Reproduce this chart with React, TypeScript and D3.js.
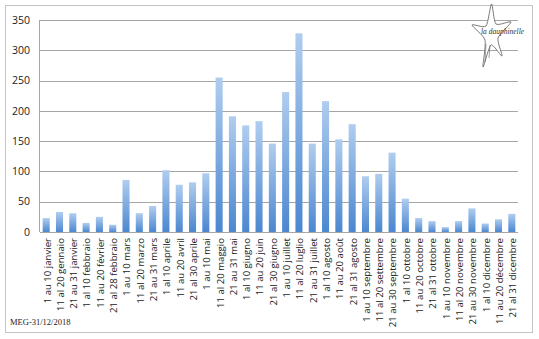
import React from "react";
import * as d3 from "d3";

const categories = [
  "1 au 10 janvier", "11 al 20 gennaio", "21 au 31 janvier",
  "1 al 10 febbraio", "11 au 20 février", "21 al 28 febbraio",
  "1 au 10 mars", "11 al 20 marzo", "21 au 31 mars",
  "1 al 10 aprile", "11 au 20 avril", "21 al 30 aprile",
  "1 au 10 mai", "11 al 20 maggio", "21 au 31 mai",
  "1 al 10 giugno", "11 au 20 juin", "21 al 30 giugno",
  "1 au 10 juillet", "11 al 20 luglio", "21 au 31 juillet",
  "1 al 10 agosto", "11 au 20 août", "21 al 31 agosto",
  "1 au 10 septembre", "11 al 20 settembre", "21 au 30 septembre",
  "1 al 10 ottobre", "11 au 20 octobre", "21 al 31 ottobre",
  "1 au 10 novembre", "11 al 20 novembre", "21 au 30 novembre",
  "1 al 10 dicembre", "11 au 20 décembre", "21 al 31 dicembre",
];

const values = [
  23, 33, 31, 15, 25, 12,
  86, 31, 43, 102, 78, 82,
  97, 255, 191, 176, 183, 146,
  231, 328, 146, 216, 153, 178,
  92, 96, 131, 55, 23, 18,
  8, 18, 39, 14, 21, 30,
];

const yTicks = [0, 50, 100, 150, 200, 250, 300, 350];

const footnote = "MEG-31/12/2018";
const logoText = "la dauphinelle";

export default function App() {
  const W = 539, H = 339;
  const left = 40, right = 518, top = 20, bottom = 232;

  const x = d3.scaleBand<string>().domain(categories).range([left, right]).paddingInner(0.47).paddingOuter(0.2);
  const y = d3.scaleLinear().domain([0, 350]).range([bottom, top]);

  // logo flower outline
  const tips: [number, number][] = [
    [491.5, 4], [511, 22], [502, 56], [483, 67], [472, 25],
  ];
  const inner: [number, number][] = [
    [496, 24], [498, 38], [491, 45], [485, 40], [486, 26],
  ];
  const pts: [number, number][] = [];
  for (let i = 0; i < tips.length; i++) {
    pts.push(tips[i]);
    pts.push(inner[i]);
  }
  const line = d3.line<[number, number]>().curve(d3.curveCardinalClosed.tension(0.3));
  const starPath = line(pts) || "";

  return (
    <svg width={W} height={H} style={{ position: "absolute", left: 0, top: 0 }}
      xmlns="http://www.w3.org/2000/svg">
      <defs>
        <linearGradient id="barGrad" x1="0" y1="0" x2="0" y2="1">
          <stop offset="0%" stopColor="#b0cdef" />
          <stop offset="100%" stopColor="#4b87d0" />
        </linearGradient>
      </defs>
      <rect x={0} y={0} width={W} height={H} fill="#ffffff" />
      <rect x={5.5} y={5.5} width={527} height={327} fill="none" stroke="#c4c4c4" strokeWidth={1} />

      {/* gridlines */}
      {yTicks.map((t) => (
        <line key={t} x1={left} x2={right} y1={Math.round(y(t)) + 0.5} y2={Math.round(y(t)) + 0.5}
          stroke="#a6a6a6" strokeWidth={1} />
      ))}
      <line x1={left - 0.5} x2={left - 0.5} y1={y(350)} y2={y(0)} stroke="#a6a6a6" strokeWidth={1} />

      {/* y tick labels */}
      {yTicks.map((t) => (
        <text key={t} x={30} y={y(t)} dy="0.35em" textAnchor="end"
          fontFamily="'Open Sans', 'Liberation Sans', sans-serif" fontSize={10.5} fill="#222">
          {t}
        </text>
      ))}

      {/* bars */}
      {categories.map((c, i) => (
        <rect key={c} x={x(c)} y={y(values[i])} width={x.bandwidth()} height={y(0) - y(values[i])}
          fill="url(#barGrad)" />
      ))}

      {/* x labels */}
      {categories.map((c) => {
        const cxl = (x(c) as number) + x.bandwidth() / 2 + 1;
        return (
          <text key={c} transform={`translate(${cxl},${238}) rotate(-90)`} textAnchor="end"
            dy="0.35em" fontFamily="'Open Sans', 'Liberation Sans', sans-serif" fontSize={9.6} fill="#222">
            {c}
          </text>
        );
      })}

      {/* footnote */}
      <text x={10} y={325} fontFamily="'Liberation Serif', 'DejaVu Serif', serif" fontSize={8.5} fill="#222">
        {footnote}
      </text>

      {/* logo */}
      <path d={starPath} fill="#ffffff" stroke="#444" strokeWidth={0.7} />
      <path d="M486,44 L485,62 M490,45 L489,58" stroke="#444" strokeWidth={0.5} fill="none" />
      <text x={481} y={34} fontFamily="'Liberation Serif', serif" fontStyle="italic" fontSize={7.5} fill="#333">
        {logoText}
      </text>
    </svg>
  );
}
